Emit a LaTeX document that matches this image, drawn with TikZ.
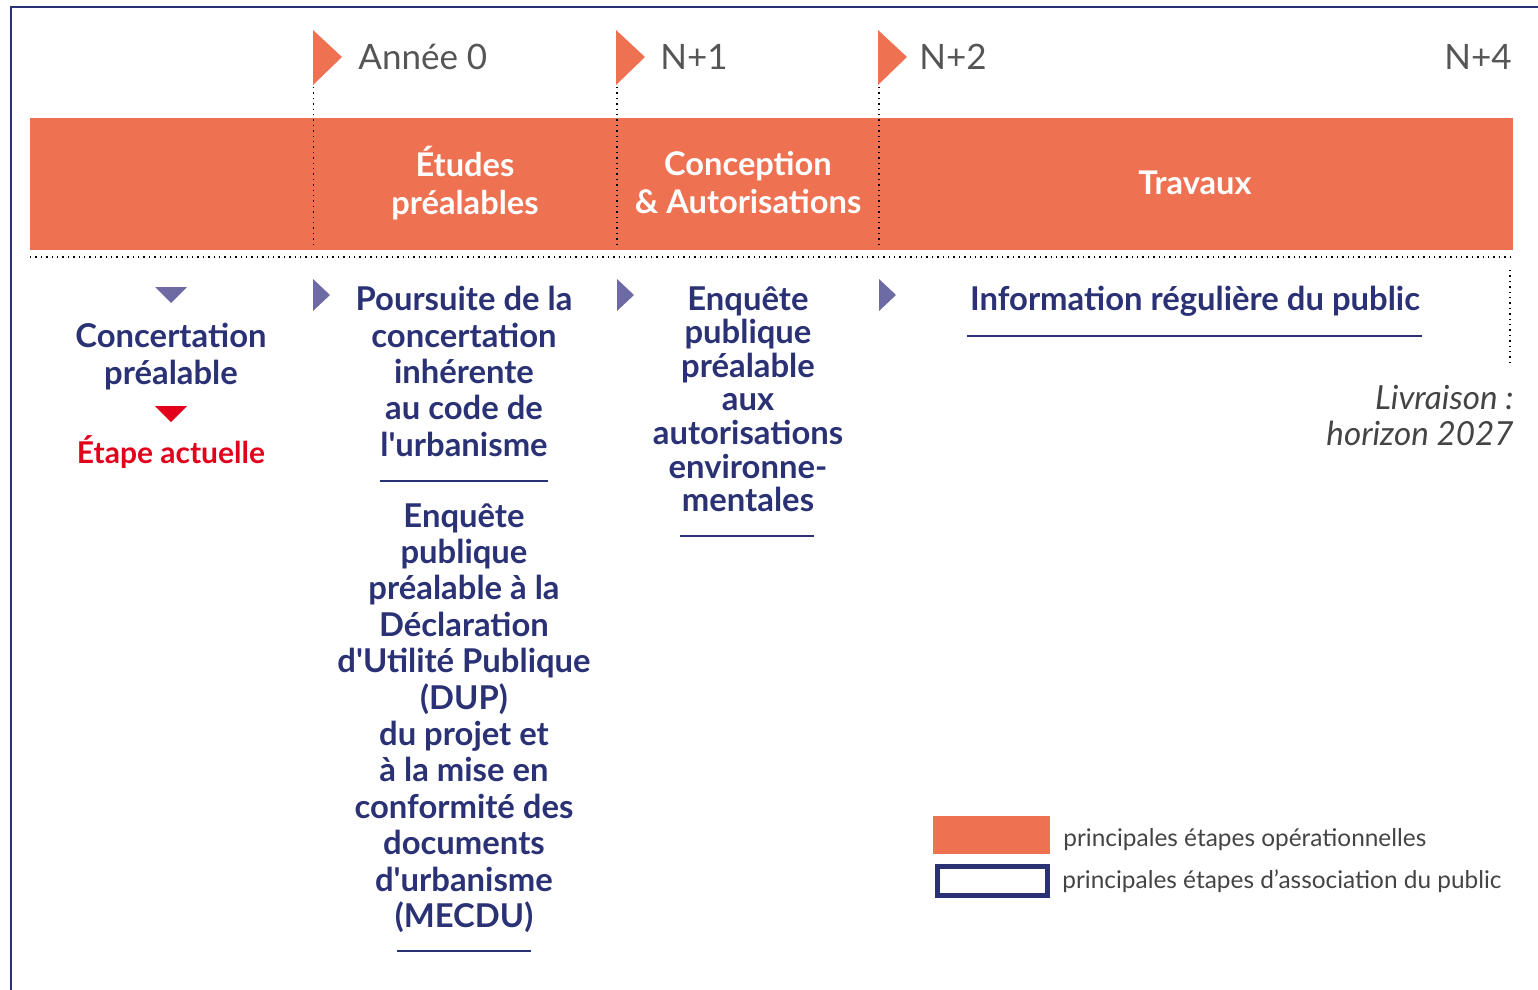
\documentclass[tikz,border=0pt]{standalone}
\usepackage{fontspec}
\setmainfont{Lato}
\usetikzlibrary{positioning}
\definecolor{bandorange}{HTML}{EE7152}
\definecolor{navy}{HTML}{2A3275}
\definecolor{markpurple}{HTML}{6E6AA4}
\definecolor{nowred}{HTML}{E3001B}
\definecolor{yeargray}{HTML}{555555}
\definecolor{notegray}{HTML}{444444}
\tikzstyle{phase} = [text=white, font=\fontsize{16.3}{19}\selectfont\bfseries, align=center, inner sep=0pt]
\tikzstyle{public} = [text=navy, font=\fontsize{16.4}{18.2}\selectfont\bfseries, align=center, inner sep=0pt, anchor=north]
\tikzstyle{year} = [text=yeargray, font=\fontsize{17.5}{20}\selectfont, anchor=west, inner sep=0pt]
\tikzstyle{legendtxt} = [text=notegray, font=\fontsize{12.2}{14}\selectfont, anchor=west, inner sep=0pt]
\tikzstyle{timeline} = [dotted, line width=0.7pt]
\tikzstyle{endrule} = [navy, line width=0.8pt]

\begin{document}
\begin{tikzpicture}[x=0.5pt, y=-0.5pt]
	\useasboundingbox (0,0) rectangle (1538,990);
	% frame
	\draw [navy, line width=0.6pt] (11,990) -- (11,7) -- (1538,7);
	% phases
	\fill [bandorange] (30,118) rectangle (1513,250);
	\fill [bandorange] (313,30) -- (342,57) -- (313,85) -- cycle;
	\fill [bandorange] (616,30) -- (645,57) -- (616,85) -- cycle;
	\fill [bandorange] (878,30) -- (907,57) -- (878,85) -- cycle;
	\draw [timeline] (313.5,87) -- (313.5,248);
	\draw [timeline] (617,87) -- (617,248);
	\draw [timeline] (879,87) -- (879,248);
	\draw [timeline] (30,257) -- (1513,257);
	\draw [timeline] (1510,270) -- (1510,367);
	\node (y0) [year] at (358,57) {Année 0};
	\node (y1) [year] at (660,57) {N+1};
	\node (y2) [year] at (919,57) {N+2};
	\node (y4) [year, anchor=east] at (1512,57) {N+4};
	\node (etudes) [phase] at (465,183) {Études\\préalables};
	\node (conception) [phase] at (748,183) {Conception\\\& Autorisations};
	\node (travaux) [phase] at (1195,183) {Travaux};
	% association du public
	\fill [markpurple] (155,287) -- (187,287) -- (171,303) -- cycle;
	\fill [nowred] (155,406) -- (187,406) -- (171,422) -- cycle;
	\fill [markpurple] (313,279) -- (330,295) -- (313,311) -- cycle;
	\fill [markpurple] (617,279) -- (634,295) -- (617,311) -- cycle;
	\fill [markpurple] (879,279) -- (896,295) -- (879,311) -- cycle;
	\node (concertation) [public] at (171,323) {Concertation\\préalable};
	\node (actuelle) [public, text=nowred, font=\fontsize{15}{17}\selectfont\bfseries] at (171,435) {Étape actuelle};
	\node (poursuite) [public] at (464,286) {Poursuite de la\\concertation\\inhérente\\au code de\\l\textquotesingle urbanisme};
	\draw [endrule] (380,481) -- (548,481);
	\node (dup) [public] at (464,503) {Enquête\\publique\\préalable à la\\Déclaration\\d\textquotesingle Utilité Publique\\(DUP)\\du projet et\\à la mise en\\conformité des\\documents\\d\textquotesingle urbanisme\\(MECDU)};
	\draw [endrule] (397,951) -- (531,951);
	\node (enquete) [public, font=\fontsize{16.4}{16.8}\selectfont\bfseries] at (748,286) {Enquête\\publique\\préalable\\aux\\autorisations\\environne-\\mentales};
	\draw [endrule] (680,536) -- (814,536);
	\node (information) [public] at (1195,286) {Information régulière du public};
	\draw [endrule] (967,336) -- (1422,336);
	\node (livraison) [text=notegray, font=\fontsize{16.6}{18}\selectfont\itshape, align=right, inner sep=0pt, anchor=north east] at (1514,385) {Livraison :\\horizon 2027};
	% legend
	\fill [bandorange] (933,816) rectangle (1050,854);
	\draw [navy, line width=2.5pt] (937.5,866.5) rectangle (1047.5,895.5);
	\node (legop) [legendtxt] at (1063,840) {principales étapes opérationnelles};
	\node (legpub) [legendtxt] at (1062,881) {principales étapes d’association du public};
\end{tikzpicture}
\end{document}
